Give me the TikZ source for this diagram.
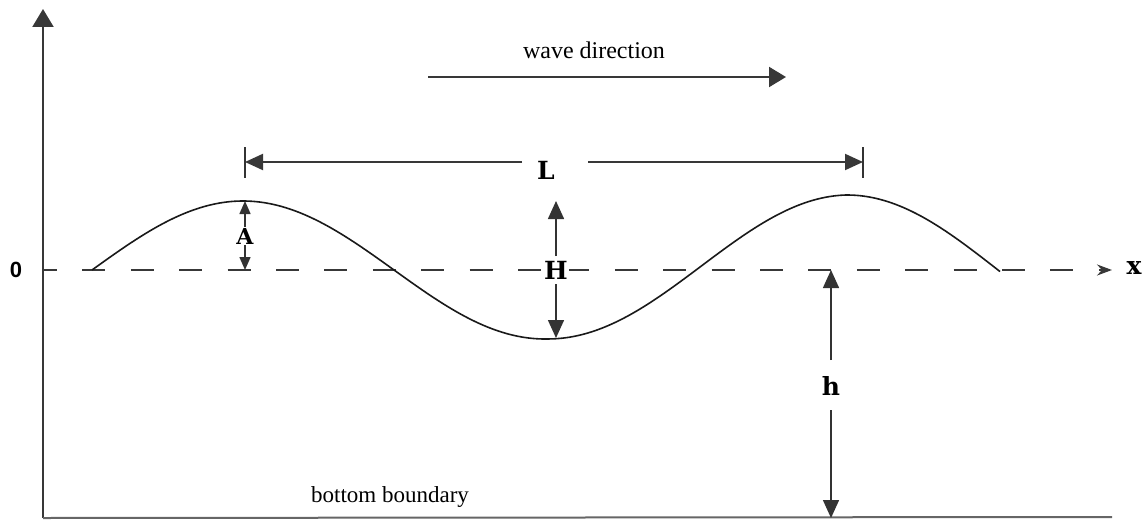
\documentclass[tikz,border=0pt]{standalone}
\usepackage{fontspec}
\setmainfont{Liberation Serif}
\newfontfamily\sansf{Liberation Sans}
\newfontfamily\slabf{DejaVu Serif}
\usetikzlibrary{arrows.meta}
\begin{document}
\begin{tikzpicture}[x=1pt,y=-1pt,
  ln/.style={line width=2pt, draw=black!78},
  thin/.style={line width=1.5pt, draw=black!80},
  bigtip/.style={-{Triangle[length=18pt,width=16pt]}},
  smalltip/.style={-{Triangle[length=13pt,width=11pt]}},
  letter/.style={font=\slabf\bfseries\fontsize{25}{25}\selectfont, inner sep=1pt, text=black},
  txt/.style={font=\fontsize{23}{26}\selectfont, inner sep=1pt, text=black}]
\useasboundingbox (0,0) rectangle (1142,519);
% axes
\coordinate (o) at (43,518);
\coordinate (ytop) at (43,9);
\coordinate (bend) at (1112,517);
\draw[ln, -{Triangle[length=18pt,width=21pt]}] (o) -- (ytop);
\draw[ln, draw=black!60] (o) -- (bend);
% zero line
\coordinate (z0) at (43,270);
\coordinate (zx) at (1112,270);
\draw[ln, dash pattern=on 23pt off 25.4pt, dash phase=9pt,
  -{Stealth[length=15pt,width=11pt,inset=5pt]}] (z0) -- (zx);
\node[font=\sansf\bfseries\fontsize{22}{22}\selectfont, text=black] (zero) at (16,270) {0};
\node[letter] (xl) at (1134,268) {x};
% wave
\draw[line width=1.6pt, black!90] plot[domain=0:908, samples=300, smooth, variable=\t]
  ({\t+92}, {270-(69+6*min(1,max(0,(\t-456)/298)))*sin(\t/604*360)});
% A
\coordinate (crest1) at (245,201);
\coordinate (a0) at (245,270);
\node[letter, fill=white, font=\slabf\bfseries\fontsize{22}{22}\selectfont] (A) at (245,236) {A};
\draw[thin, smalltip] (A.north) -- (crest1);
\draw[thin, smalltip] (A.south) -- (a0);
% L
\node[letter] (L) at (546,170) {L};
\coordinate (Lgl) at (522,162);
\coordinate (Lgr) at (588,162);
\coordinate (Ll) at (245,162);
\coordinate (Lr) at (863,162);
\coordinate (Lb1t) at (245,147);
\coordinate (Lb1b) at (245,178);
\coordinate (Lb2t) at (863,147);
\coordinate (Lb2b) at (863,178);
\draw[ln, bigtip] (Lgl) -- (Ll);
\draw[ln, bigtip] (Lgr) -- (Lr);
\draw[thin] (Lb1t) -- (Lb1b);
\draw[thin] (Lb2t) -- (Lb2b);
% H
\node[letter, fill=white] (H) at (556,270) {H};
\coordinate (Hg1) at (556,256);
\coordinate (Hg2) at (556,284);
\coordinate (Ht) at (556,201);
\coordinate (Hb) at (556,338);
\draw[thin, bigtip] (Hg1) -- (Ht);
\draw[thin, bigtip] (Hg2) -- (Hb);
% h
\node[letter] (h) at (831,386) {h};
\coordinate (hg1) at (831,360);
\coordinate (hg2) at (831,410);
\coordinate (ht) at (831,270);
\coordinate (hb) at (831,518);
\draw[thin, bigtip] (hg1) -- (ht);
\draw[thin, bigtip] (hg2) -- (hb);
% wave direction
\node[txt, font=\fontsize{24}{27}\selectfont] (wd) at (594,50) {wave direction};
\coordinate (w1) at (428,77);
\coordinate (w2) at (786,77);
\draw[ln, -{Triangle[length=17pt,width=20pt]}] (w1) -- (w2);
% bottom boundary
\node[txt] (bb) at (390,497) {bottom boundary};
\end{tikzpicture}
\end{document}
